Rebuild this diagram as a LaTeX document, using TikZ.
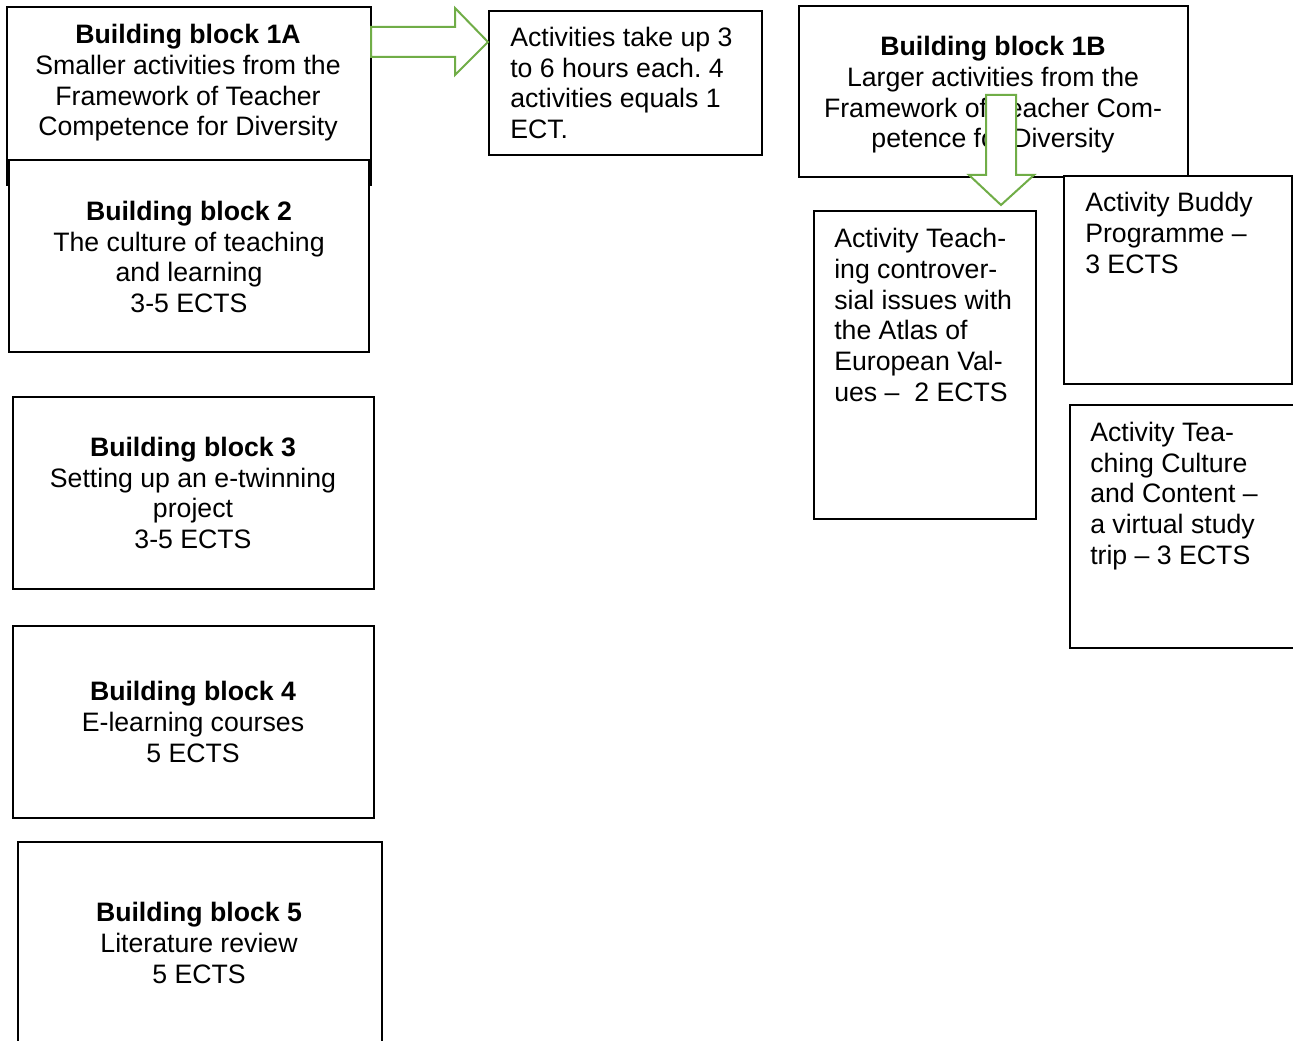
\documentclass[tikz,border=0pt]{standalone}
\usepackage{fontspec}
\setmainfont{Liberation Sans}
\definecolor{arrowgreen}{HTML}{70AD47}
\begin{document}
\begin{tikzpicture}[x=0.75pt,y=-0.75pt]
\tikzstyle{blk}=[draw,rectangle,fill=white,line width=1.2pt,inner sep=0pt]
\tikzstyle{blkb}=[blk,line width=1.6pt]
\tikzstyle{txt}=[inner sep=0pt,font=\fontsize{20}{23}\selectfont]
\tikzstyle{ctxt}=[txt,align=center]
\tikzstyle{ltxt}=[txt,align=left,anchor=west]
\tikzstyle{garrow}=[draw=arrowgreen,fill=white,line width=1.5pt,line join=miter]
\useasboundingbox (0,0) rectangle (1293,1041);

% Building block 1A and its activities
\node[blkb,minimum width=273pt,minimum height=133.5pt] (b1a) at (189,96) {};
\node[ctxt] (b1atxt) at (188,83) {\textbf{Building block 1A}\\Smaller activities from the\\Framework of Teacher\\Competence for Diversity};
\node[blk,minimum width=204.75pt,minimum height=108pt] (act) at (625.5,83) {};
\node[ltxt] (acttxt) at (510,83) {Activities take up 3\\to 6 hours each.\ 4\\activities equals 1\\ECT.};
\draw[garrow] (371,27) -- (455,27) -- (455,8) -- (488,42) -- (455,75) -- (455,57) -- (371,57) -- cycle;

% Building blocks 2 to 5
\node[blk,minimum width=270pt,minimum height=144pt] (b2) at (189,256) {};
\node[ctxt] (b2txt) at (189,257) {\textbf{Building block 2}\\The culture of teaching\\and learning\\3-5 ECTS};
\node[blk,minimum width=270.75pt,minimum height=144pt] (b3) at (193.5,493) {};
\node[ctxt] (b3txt) at (193,493) {\textbf{Building block 3}\\Setting up an e-twinning\\project\\3-5 ECTS};
\node[blk,minimum width=270.75pt,minimum height=144pt] (b4) at (193.5,722) {};
\node[ctxt] (b4txt) at (193,722) {\textbf{Building block 4}\\E-learning courses\\5 ECTS};
\node[blk,minimum width=273pt,minimum height=154.5pt] (b5) at (200,945) {};
\node[ctxt] (b5txt) at (199,943) {\textbf{Building block 5}\\Literature review\\5 ECTS};

% Building block 1B and its activities
\node[blkb,minimum width=291.75pt,minimum height=128.25pt] (b1b) at (993.5,91.5) {};
\node[ctxt] (b1btxt) at (993,95) {\textbf{Building block 1B}\\Larger activities from the\\Framework of Teacher Com-\\petence for Diversity};
\node[blk,minimum width=166.5pt,minimum height=231pt] (teach) at (925,365) {};
\node[ltxt] (teachtxt) at (834,315) {Activity Teach-\\ing controver-\\sial issues with\\the Atlas of\\European Val-\\ues --\ \ 2 ECTS};
\node[blk,minimum width=171pt,minimum height=156pt] (buddy) at (1178,280) {};
\node[ltxt] (buddytxt) at (1085,233) {Activity Buddy\\Programme --\\3 ECTS};
\node[blk,minimum width=172.5pt,minimum height=182.25pt] (cult) at (1185,526.5) {};
\node[ltxt] (culttxt) at (1090,496) {Activity Tea-\\ching Culture\\and Content --\\a virtual study\\trip -- 3 ECTS};
\draw[garrow] (986,95) -- (1016,95) -- (1016,175) -- (1034,175) -- (1001,205) -- (969,175) -- (986,175) -- cycle;
\end{tikzpicture}
\end{document}
